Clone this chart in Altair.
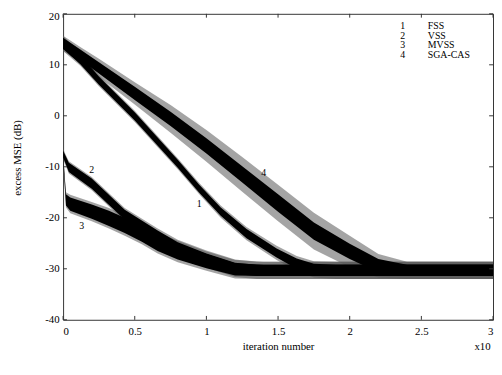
import altair as alt
import pandas as pd

# ---- data (x in units of 10^4 iterations, y in dB) ----
FSS_x = [0, 0.12, 0.25, 0.5, 0.8, 0.95, 1.1, 1.28, 1.49, 1.63, 1.75, 1.9, 2.5, 3.0]
FSS_y = [14.2, 11.0, 6.9, -0.1, -9.4, -14.3, -18.8, -23.1, -26.9, -29.0, -30.1, -30.3, -30.3, -30.3]
FSS_core = [1.1, 0.9, 0.8, 0.8, 0.8, 0.8, 0.8, 0.9, 0.9, 1.0, 1.1, 1.1, 1.1, 1.1]
FSS_spike = [1.5, 1.2, 1.1, 1.1, 1.1, 1.1, 1.2, 1.3, 1.4, 1.5, 1.6, 1.7, 1.7, 1.7]

VSS_x = [0, 0.04, 0.2, 0.43, 0.66, 0.8, 1.0, 1.2, 1.35, 2.0, 3.0]
VSS_y = [-7.5, -10.1, -13.3, -19.4, -23.6, -25.9, -28.1, -29.9, -30.3, -30.3, -30.3]
VSS_core = [0.7, 0.9, 1.0, 1.0, 1.1, 1.1, 1.1, 1.1, 1.1, 1.1, 1.1]
VSS_spike = [1.0, 1.2, 1.3, 1.3, 1.5, 1.6, 1.7, 1.7, 1.7, 1.7, 1.7]

MVSS_x = [0, 0.02, 0.05, 0.2, 0.32, 0.43, 0.55, 0.66, 0.8, 1.0, 1.2, 1.4, 2.0, 3.0]
MVSS_y = [-8.0, -16.5, -17.3, -18.8, -20.1, -21.5, -23.1, -24.9, -26.6, -28.5, -30.1, -30.3, -30.3, -30.3]
MVSS_core = [0.4, 1.1, 1.3, 1.4, 1.5, 1.5, 1.6, 1.6, 1.6, 1.4, 1.2, 1.1, 1.1, 1.1]
MVSS_spike = [0.6, 1.5, 1.8, 1.9, 2.0, 2.0, 2.1, 2.1, 2.1, 1.9, 1.8, 1.7, 1.7, 1.7]

SGA_x = [0, 0.12, 0.25, 0.5, 0.75, 1.0, 1.25, 1.5, 1.75, 2.0, 2.2, 2.4, 3.0]
SGA_y = [14.2, 12.0, 9.4, 4.4, -0.6, -5.9, -11.5, -17.1, -22.6, -26.6, -29.4, -30.3, -30.3]
SGA_core = [1.1, 1.0, 1.1, 1.3, 1.4, 1.5, 1.6, 1.7, 1.7, 1.5, 1.3, 1.1, 1.1]
SGA_spike = [1.5, 1.5, 1.8, 2.2, 2.7, 3.1, 3.4, 3.6, 3.6, 3.1, 2.3, 1.7, 1.7]

curve_names = ["FSS", "VSS", "MVSS", "SGA-CAS"]
curve_numbers = ["1", "2", "3", "4"]

# curve number annotations (data coordinates)
tag_text = ["1", "2", "3", "4"]
tag_x = [0.95, 0.2, 0.13, 1.4]
tag_y = [-17.4, -10.6, -21.7, -11.2]

# legend text block (data coordinates)
leg_num_x = 2.37
leg_name_x = 2.545
leg_y = [17.6, 15.7, 13.8, 11.9]

# exponent note under the x axis (data coordinates)
exp_text = ["x10"]
exp_x = [2.87]
exp_y = [-45.3]

x_ticks = [0, 0.5, 1, 1.5, 2, 2.5, 3]
y_ticks = [-40, -30, -20, -10, 0, 10, 20]

# ---- build tables ----
rows = []
for name, xs, ys, core, spike in [
    ("FSS", FSS_x, FSS_y, FSS_core, FSS_spike),
    ("VSS", VSS_x, VSS_y, VSS_core, VSS_spike),
    ("MVSS", MVSS_x, MVSS_y, MVSS_core, MVSS_spike),
    ("SGA-CAS", SGA_x, SGA_y, SGA_core, SGA_spike),
]:
    for x, y, c, s in zip(xs, ys, core, spike):
        rows.append({"curve": name, "x": x, "clo": y - c, "chi": y + c,
                     "slo": y - s, "shi": y + s})
df = pd.DataFrame(rows)

tags = pd.DataFrame({"t": tag_text, "x": tag_x, "y": tag_y})
legend = pd.DataFrame({"num": curve_numbers, "name": curve_names, "y": leg_y,
                       "xn": [leg_num_x] * 4, "xm": [leg_name_x] * 4})
expo = pd.DataFrame({"t": exp_text, "x": exp_x, "y": exp_y})

# inward tick marks on all four sides of the box (length ~4px)
xt = pd.DataFrame({"v": x_ticks, "b0": [-40] * 7, "b1": [-39.25] * 7,
                   "t0": [20] * 7, "t1": [19.25] * 7})
yt = pd.DataFrame({"v": y_ticks, "l0": [0] * 7, "l1": [0.027] * 7,
                   "r0": [3] * 7, "r1": [2.973] * 7})

FONT = "Liberation Serif"
xscale = alt.Scale(domain=[0, 3], nice=False, zero=False)
yscale = alt.Scale(domain=[-40, 20], nice=False, zero=False)

xaxis = alt.Axis(values=x_ticks, labelExpr="'' + datum.value", title="iteration number",
                 titlePadding=4, labelPadding=6)
yaxis = alt.Axis(values=y_ticks, labelExpr="'' + datum.value", title="excess MSE (dB)",
                 labelPadding=4, titleX=-46, titleY=146, titleBaseline="middle",
                 titleAlign="center", titleAngle=270,
                 labelBaseline={"condition": {"test": "datum.value == 20", "value": "top"}, "value": "middle"},
                 labelOffset={"condition": {"test": "datum.value == 20", "value": -3}, "value": 0})

base = alt.Chart(df)
spikes = base.mark_area(color="#5a5a5a", opacity=0.55).encode(
    x=alt.X("x:Q", scale=xscale, axis=xaxis),
    y=alt.Y("slo:Q", scale=yscale, axis=yaxis),
    y2="shi:Q",
    detail="curve:N",
)
core = base.mark_area(color="#000000").encode(
    x=alt.X("x:Q", scale=xscale),
    y=alt.Y("clo:Q", scale=yscale),
    y2="chi:Q",
    detail="curve:N",
)

tag_layer = alt.Chart(tags).mark_text(font=FONT, fontSize=10, color="black").encode(
    x=alt.X("x:Q", scale=xscale), y=alt.Y("y:Q", scale=yscale), text="t:N")

leg_num = alt.Chart(legend).mark_text(font=FONT, fontSize=10, color="black", align="center").encode(
    x=alt.X("xn:Q", scale=xscale), y=alt.Y("y:Q", scale=yscale), text="num:N")
leg_name = alt.Chart(legend).mark_text(font=FONT, fontSize=10, color="black", align="left").encode(
    x=alt.X("xm:Q", scale=xscale), y=alt.Y("y:Q", scale=yscale), text="name:N")

exp_layer = alt.Chart(expo).mark_text(font=FONT, fontSize=11, color="black", align="left").encode(
    x=alt.X("x:Q", scale=xscale), y=alt.Y("y:Q", scale=yscale), text="t:N")

tick_col = "#333333"
ytick_l = alt.Chart(yt).mark_rule(color=tick_col).encode(
    y=alt.Y("v:Q", scale=yscale), x=alt.X("l0:Q", scale=xscale), x2="l1:Q")
ytick_r = alt.Chart(yt).mark_rule(color=tick_col).encode(
    y=alt.Y("v:Q", scale=yscale), x=alt.X("r0:Q", scale=xscale), x2="r1:Q")
xtick_b = alt.Chart(xt).mark_rule(color=tick_col).encode(
    x=alt.X("v:Q", scale=xscale), y=alt.Y("b0:Q", scale=yscale), y2="b1:Q")
xtick_t = alt.Chart(xt).mark_rule(color=tick_col).encode(
    x=alt.X("v:Q", scale=xscale), y=alt.Y("t0:Q", scale=yscale), y2="t1:Q")

chart = alt.layer(
    spikes, core, tag_layer, leg_num, leg_name, exp_layer,
    ytick_l, ytick_r, xtick_b, xtick_t,
).properties(
    width=494, height=354,
    autosize=alt.AutoSizeParams(type="fit", contains="padding"),
    padding={"left": 4, "top": 0, "right": 0, "bottom": 3},
    background="white",
).configure_view(
    stroke="#333333", strokeWidth=1,
).configure_axis(
    domain=False, ticks=False, grid=False,
    labelFont=FONT, labelFontSize=11, labelColor="black",
    titleFont=FONT, titleFontSize=11, titleFontWeight="normal", titleColor="black",
)

chart.save("out.html", embed_options={"renderer": "svg", "actions": False})
